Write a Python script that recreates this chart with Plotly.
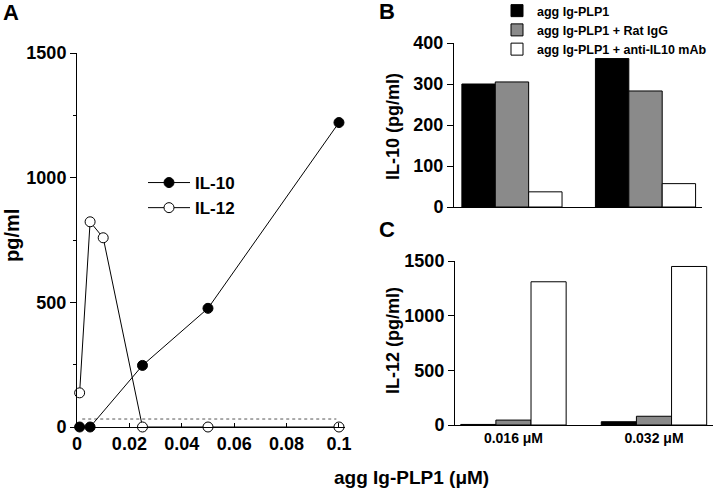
import plotly.graph_objects as go

# Panel A data
conc_il10 = [0.001, 0.005, 0.025, 0.05, 0.1]
il10_vals = [0, 0, 247, 476, 1221]
conc_il12 = [0.001, 0.005, 0.01, 0.025, 0.05, 0.1]
il12_vals = [137, 823, 759, 0, 0, 0]
detect_x = [0.002, 0.099]
detect_y = [32, 32]

# Panels B and C data
groups = ["0.016 μM", "0.032 μM"]
treatments = ["agg Ig-PLP1", "agg Ig-PLP1 + Rat IgG", "agg Ig-PLP1 + anti-IL10 mAb"]
b_plp1 = [300, 362]
b_ratigg = [305, 283]
b_anti = [37, 57]
c_plp1 = [5, 30]
c_ratigg = [45, 80]
c_anti = [1310, 1450]

a_xticks = [0, 0.02, 0.04, 0.06, 0.08, 0.1]
a_xticktext = ["0", "0.02", "0.04", "0.06", "0.08", "0.1"]

W, H = 720, 494
FONT = "Liberation Sans, Arial, sans-serif"

def px_x(p):
    return p / W

def px_y(p):
    return 1 - p / H

fig = go.Figure()

# Panel A
fig.add_trace(go.Scatter(x=detect_x, y=detect_y, mode="lines",
                         line=dict(color="#555555", width=1, dash="dot"),
                         showlegend=False, hoverinfo="skip",
                         xaxis="x", yaxis="y"))
fig.add_trace(go.Scatter(x=conc_il10, y=il10_vals, mode="lines+markers", name="IL-10",
                         line=dict(color="black", width=1),
                         marker=dict(symbol="circle", size=10, color="black",
                                     line=dict(color="black", width=1)),
                         cliponaxis=False, legend="legend", xaxis="x", yaxis="y"))
fig.add_trace(go.Scatter(x=conc_il12, y=il12_vals, mode="lines+markers", name="IL-12",
                         line=dict(color="black", width=1),
                         marker=dict(symbol="circle", size=10, color="white",
                                     line=dict(color="black", width=1)),
                         cliponaxis=False, legend="legend", xaxis="x", yaxis="y"))

colors = ["#000000", "#8a8a8a", "#ffffff"]
b_series = [b_plp1, b_ratigg, b_anti]
c_series = [c_plp1, c_ratigg, c_anti]
for name, col, vals in zip(treatments, colors, b_series):
    fig.add_trace(go.Bar(x=groups, y=vals, name=name, marker=dict(color=col, line=dict(color="black", width=1)),
                         legend="legend2", xaxis="x2", yaxis="y2"))
for name, col, vals in zip(treatments, colors, c_series):
    fig.add_trace(go.Bar(x=groups, y=vals, name=name, marker=dict(color=col, line=dict(color="black", width=1)),
                         showlegend=False, xaxis="x3", yaxis="y3"))

tick_font = dict(family=FONT, size=18, color="black", weight="bold")
common = dict(automargin=False, showgrid=False, zeroline=False, showline=True,
              linecolor="black", linewidth=1, tickcolor="black")

fig.update_layout(
    template="none",
    width=W, height=H,
    margin=dict(l=0, r=0, t=0, b=0, pad=0, autoexpand=False),
    paper_bgcolor="white", plot_bgcolor="white",
    barmode="group", bargap=0.25, bargroupgap=0,
    font=dict(family=FONT, color="black"),
    xaxis=dict(domain=[px_x(77), px_x(345)], anchor="y", range=[0, 0.1023],
               tickvals=a_xticks, ticktext=a_xticktext, ticks="inside", ticklen=4,
               tickfont=tick_font, **common),
    yaxis=dict(domain=[px_y(427), px_y(53)], anchor="x", range=[0, 1500],
               tickvals=[0, 500, 1000, 1500], ticks="outside", ticklen=6,
               tickfont=tick_font,
               minor=dict(tickvals=[250, 750, 1250], ticks="outside", ticklen=3, tickcolor="black"),
               **common),
    xaxis2=dict(domain=[px_x(454), px_x(702)], anchor="y2", range=[-0.434, 1.423],
                showticklabels=False, ticks="", **common),
    yaxis2=dict(domain=[px_y(207), px_y(43)], anchor="x2", range=[0, 400],
                tickvals=[0, 100, 200, 300, 400], ticks="outside", ticklen=6,
                tickfont=tick_font, **common),
    xaxis3=dict(domain=[px_x(455), px_x(713)], anchor="y3", range=[-0.416, 1.42],
                ticks="",
                tickfont=dict(family=FONT, size=14, color="black", weight="bold"), **common),
    yaxis3=dict(domain=[px_y(425), px_y(261)], anchor="x3", range=[0, 1500],
                tickvals=[0, 500, 1000, 1500], ticks="outside", ticklen=6,
                tickfont=tick_font, **common),
    legend=dict(x=px_x(143), y=px_y(165), xanchor="left", yanchor="top",
                bgcolor="rgba(0,0,0,0)", itemwidth=42, tracegroupgap=0,
                font=dict(family=FONT, size=17, color="black", weight="bold")),
    legend2=dict(x=px_x(497), y=px_y(-4), xanchor="left", yanchor="top",
                 bgcolor="rgba(0,0,0,0)", tracegroupgap=0,
                 font=dict(family=FONT, size=12.5, color="black", weight="bold")),
)

annotations = [
    dict(text="A", x=px_x(11), y=px_y(12)),
    dict(text="B", x=px_x(387), y=px_y(11)),
    dict(text="C", x=px_x(387), y=px_y(229)),
]
for a in annotations:
    fig.add_annotation(xref="paper", yref="paper", showarrow=False, xanchor="center", yanchor="middle",
                       font=dict(family=FONT, size=22, color="black", weight="bold"), **a)

fig.add_annotation(text="pg/ml", xref="paper", yref="paper", x=px_x(12), y=px_y(236),
                   textangle=-90, showarrow=False, xanchor="center", yanchor="middle",
                   font=dict(family=FONT, size=20, color="black", weight="bold"))
fig.add_annotation(text="agg Ig-PLP1 (μM)", xref="paper", yref="paper", x=px_x(411), y=px_y(477),
                   showarrow=False, xanchor="center", yanchor="middle",
                   font=dict(family=FONT, size=19, color="black", weight="bold"))
fig.add_annotation(text="IL-10 (pg/ml)", xref="paper", yref="paper", x=px_x(393), y=px_y(126),
                   textangle=-90, showarrow=False, xanchor="center", yanchor="middle",
                   font=dict(family=FONT, size=18, color="black", weight="bold"))
fig.add_annotation(text="IL-12 (pg/ml)", xref="paper", yref="paper", x=px_x(393), y=px_y(340),
                   textangle=-90, showarrow=False, xanchor="center", yanchor="middle",
                   font=dict(family=FONT, size=18, color="black", weight="bold"))

fig.write_html("out.html", config={"displayModeBar": False},
               post_script="document.body.style.margin='0';document.body.style.overflow='hidden';")
